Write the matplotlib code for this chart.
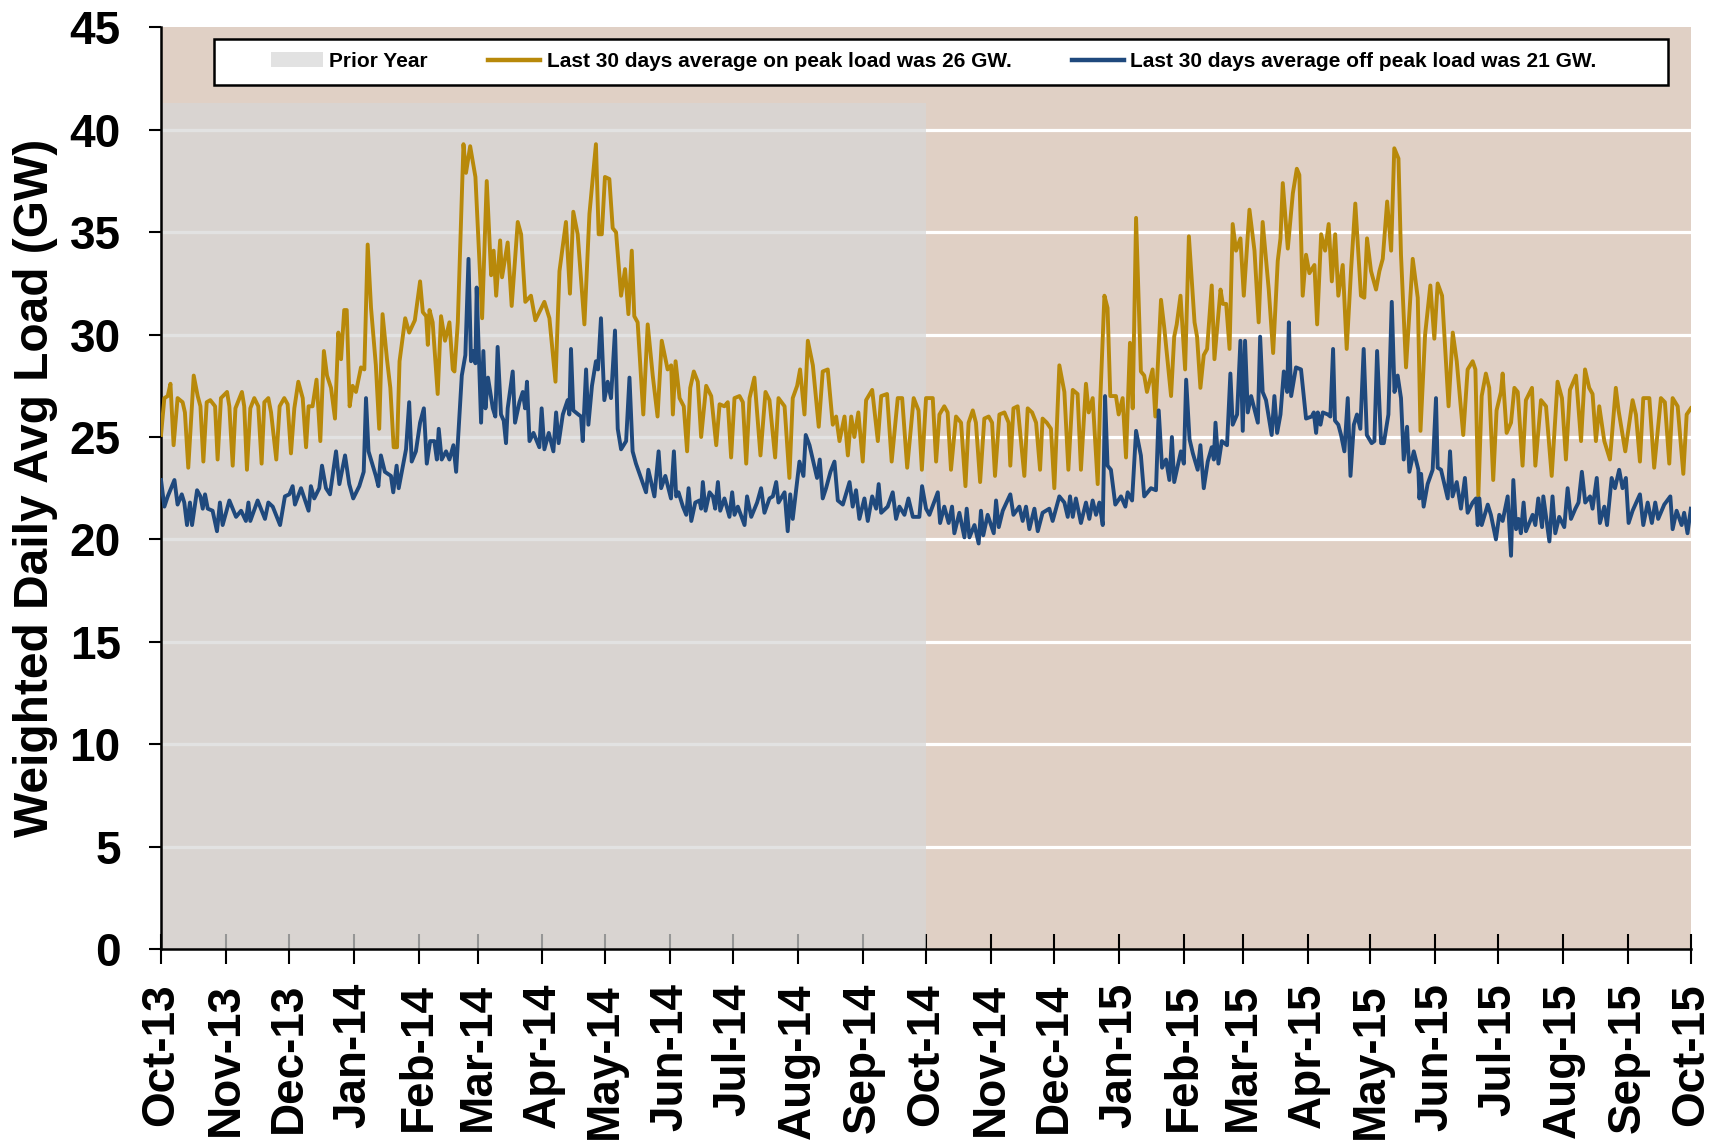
import matplotlib
matplotlib.use("Agg")
import matplotlib.pyplot as plt
import matplotlib.dates as mdates
from matplotlib.patches import Patch, Rectangle
from matplotlib.lines import Line2D
import pandas as pd

# days since 2013-10-01 and weighted daily average load (GW)
on_peak_day = [
    0, 1.6, 3.2, 4.5, 6.0, 7.9, 10.3, 11.4, 13.0, 15.6, 17.5, 18.8, 20.2, 21.8, 23.5, 25.8, 27.0, 28.6,
    31.5, 32.6, 34.2, 35.5, 38.6, 39.7, 41.0, 42.6, 44.5, 46.4, 48.0, 49.3, 51.2, 52.5, 55.0, 56.6,
    58.8, 60.4, 62.0, 63.6, 65.5, 67.6, 69.2, 70.4, 72.3, 74.2, 76.0, 77.7, 79.2, 81.1, 83.0, 84.6,
    85.9, 87.4, 88.6, 90.0, 91.4, 93.0, 95.4, 97.0, 98.6, 100.2, 102.5, 104.1, 105.7, 107.8, 109.4,
    111.0, 112.6, 113.8, 116.5, 118.4, 121.1,
    123.6, 124.9, 126.5, 127.3, 128.1, 129.6, 132.0, 133.6, 135.5, 137.6, 139.2, 140.0, 141.6, 144.3,
    145.5, 147.5, 150.0, 153.2, 155.4, 157.5, 158.7, 159.9, 161.8, 162.7, 165.4, 167.3, 170.2, 171.8,
    173.8, 176.5, 178.6, 182.9, 185.3, 188.2, 190.1, 193.2, 195.1, 196.7, 198.8, 202.0, 204.4, 207.5,
    208.8, 210.3, 211.8, 213.9, 215.5, 217.1, 219.5, 221.4, 223.0, 224.6, 225.8, 227.4, 230.1, 232.2,
    234.6, 236.9, 238.9, 241.7, 243.4,
    244.2, 245.5, 247.4, 249.4, 251.0, 252.5, 254.2, 256.1, 257.7, 260.1, 262.5, 264.9, 266.5, 268.8,
    270.4, 272.0, 273.6, 276.0, 277.6, 279.2, 280.8, 283.1, 286.0, 288.4, 290.3, 293.0, 294.6, 297.5,
    299.8, 301.4, 303.5, 304.9, 307.0, 308.6, 311.0, 313.8, 315.7, 318.1, 320.5, 322.1, 323.7, 326.1,
    327.7, 329.3, 330.8, 332.7, 334.8, 336.4, 339.3, 342.0, 343.6, 346.4, 348.6, 351.5, 353.6, 356.0,
    359.1, 361.4, 363.0, 365.0,
    368.2, 369.8, 371.4, 373.7, 375.3, 376.9, 379.3, 381.7, 383.8, 385.3, 387.3, 388.8, 390.8, 392.8,
    394.9, 396.5, 397.9, 400.0, 402.4, 404.4, 405.2, 406.7, 408.7, 411.9, 413.5, 415.6, 417.5, 419.4,
    420.6, 422.6, 424.6, 426.2, 428.6, 431.0, 432.9, 435.0, 437.3, 438.9, 441.3, 442.6, 444.5, 446.9,
    448.0, 450.1, 451.6, 452.9, 455.6, 456.9, 458.8, 460.4, 462.3, 463.6, 465.2, 467.5, 469.1, 470.4,
    473.1, 474.4, 477.1, 478.7, 481.9, 483.4, 484.6, 486.4,
    488.6, 490.4, 493.1, 494.3, 495.9, 497.5, 499.1, 501.3, 502.6, 505.5, 506.6, 508.2, 509.8, 511.3,
    512.9, 515.0, 516.6, 519.3, 521.7, 523.7, 525.6, 528.5, 530.6, 532.8, 534.1, 535.2, 537.6, 540.0,
    541.9, 543.1, 544.7, 546.3, 547.9, 550.3, 551.6, 553.5, 555.4, 557.1, 558.6, 560.2, 561.7, 563.8,
    565.7, 567.8, 569.8, 572.5, 574.1, 575.4, 577.3, 579.7, 581.3, 582.9, 585.0, 586.9, 588.4, 590.4,
    591.6, 594.0, 597.2, 599.6, 600.9, 603.1, 605.6, 607.5,
    609.1, 611.2, 614.3, 616.3, 618.2, 621.3, 623.4, 625.8, 627.1, 628.5, 630.1, 632.1, 633.7, 635.6,
    637.2, 639.3, 640.1, 642.0, 644.1, 645.7, 647.3, 649.6, 651.2, 654.1, 655.7, 658.4, 660.8, 663.5,
    666.3, 668.4, 670.3, 672.2, 675.1, 677.5, 679.4, 681.4, 683.0, 684.6, 686.2, 688.6, 691.3, 694.1,
    695.4, 698.6, 702.1, 703.7, 705.6, 707.2, 710.1, 712.4, 715.6, 717.5, 719.6, 721.2, 723.6, 726.3,
    727.9, 729.9,
]
on_peak_gw = [
    25.1, 26.9, 27.0, 27.6, 24.6, 26.9, 26.7, 26.2, 23.5, 28.0, 27.0, 26.5, 23.8, 26.7, 26.8, 26.5, 23.9, 26.9,
    27.2, 26.5, 23.6, 26.4, 27.2, 26.5, 23.4, 26.4, 26.9, 26.5, 23.7, 26.7, 26.9, 26.2, 23.9, 26.5,
    26.9, 26.6, 24.2, 26.4, 27.7, 26.9, 24.5, 26.5, 26.5, 27.8, 24.8, 29.2, 28.0, 27.4, 25.9, 30.1,
    28.8, 31.2, 31.2, 26.5, 27.5, 27.2, 28.4, 28.3, 34.4, 31.3, 28.5, 25.4, 31.0, 28.8, 27.4,
    24.5, 24.5, 28.7, 30.8, 30.1, 30.7,
    32.6, 31.1, 30.9, 29.5, 31.2, 30.6, 27.1, 30.9, 29.7, 30.6, 28.3, 28.2, 30.6, 39.3,
    37.9, 39.2, 37.7, 30.8, 37.5, 32.9, 34.1, 31.9, 34.6, 32.8, 34.5, 31.4, 35.5, 34.9,
    31.6, 31.9, 30.7, 31.6, 30.8, 27.7, 33.1, 35.5, 32.0, 36.0, 34.9, 30.5, 35.9, 39.3,
    34.9, 34.9, 37.7, 37.6, 35.2, 35.0, 31.9, 33.2, 31.0, 34.1, 30.9, 30.6, 26.1, 30.5,
    28.0, 26.0, 29.7, 28.3, 28.5,
    26.1, 28.7, 26.9, 26.5, 24.3, 27.4, 28.2, 27.7, 25.0, 27.5, 27.0, 24.6, 26.6, 26.5,
    26.7, 24.0, 26.9, 27.0, 26.7, 23.7, 26.9, 27.9, 24.1, 27.2, 26.8, 24.0, 26.9, 26.5,
    23.0, 26.9, 27.5, 28.3, 26.1, 29.7, 28.5, 25.5, 28.2, 28.3, 25.6, 26.0, 24.8, 26.0,
    24.1, 26.0, 25.0, 26.2, 23.8, 26.8, 27.3, 24.8, 27.0, 27.1, 23.8, 26.9, 26.9, 23.5,
    26.9, 26.3, 23.4, 26.9,
    26.9, 23.8, 26.1, 26.5, 26.2, 23.4, 26.0, 25.7, 22.6, 25.7, 26.3, 25.7, 22.8, 25.9,
    26.0, 25.7, 23.1, 26.1, 26.2, 25.7, 23.6, 26.4, 26.5, 23.1, 26.4, 26.2, 25.7, 23.4,
    25.9, 25.7, 25.4, 22.5, 28.5, 27.2, 23.4, 27.3, 27.1, 23.4, 27.6, 26.2, 26.9, 22.7,
    26.5, 31.9, 31.3, 27.0, 27.0, 26.1, 26.9, 24.0, 29.6, 26.4, 35.7, 28.2, 28.0, 27.2,
    28.3, 26.0, 31.7, 30.3, 27.0, 29.9, 30.5, 31.9,
    28.3, 34.8, 30.6, 29.9, 27.4, 29.0, 29.3, 32.4, 28.8, 32.2, 31.5, 31.5, 29.3, 35.4,
    34.1, 34.7, 31.9, 36.1, 34.1, 30.6, 35.5, 32.2, 29.1, 33.6, 34.7, 37.4, 34.2, 36.9,
    38.1, 37.8, 31.9, 33.9, 33.0, 33.4, 30.5, 34.9, 34.1, 35.4, 32.6, 34.9, 31.9, 33.4,
    29.3, 33.2, 36.4, 31.9, 31.8, 34.7, 33.1, 32.2, 33.1, 33.7, 36.5, 34.1, 39.1, 38.6,
    33.9, 28.4, 33.7, 31.8, 25.3, 30.0, 32.4, 29.8,
    32.5, 31.9, 26.5, 30.1, 28.7, 25.1, 28.3, 28.7, 28.3, 22.1, 27.0, 28.1, 27.4, 22.9,
    26.3, 27.2, 28.1, 25.2, 25.7, 27.4, 27.2, 23.6, 26.8, 27.4, 23.6, 26.8, 26.5, 23.1,
    27.7, 26.9, 23.9, 27.3, 28.0, 24.8, 28.3, 27.4, 27.1, 24.8, 26.5, 24.8, 23.9, 27.4,
    26.3, 24.3, 26.8, 26.1, 23.8, 26.9, 26.9, 23.5, 26.9, 26.7, 23.7, 26.9, 26.5, 23.2,
    26.1, 26.4,
]

off_peak_day = [
    0, 1.6, 3.2, 6.4, 7.9, 9.9, 11.1, 12.4, 13.8, 14.8, 17.2, 18.8, 19.9, 21.0, 22.3, 24.6, 26.7, 28.1,
    29.4, 32.6, 35.8, 38.2, 40.5, 41.7, 42.6, 46.1, 49.6, 51.2, 53.3, 56.8, 59.1, 61.2, 62.8, 63.9,
    66.8, 70.4, 71.5, 73.1, 75.5, 76.8, 78.7, 80.6, 83.5, 85.1, 87.8, 89.8, 91.7, 94.6, 96.7, 97.8,
    99.0, 102.5, 103.7, 104.9, 106.8, 109.7, 110.8, 112.4, 113.4, 116.9, 118.4, 119.6, 121.6,
    123.6, 125.4, 126.8, 128.4, 130.4, 131.6, 132.5, 133.9, 136.0, 137.6, 139.5, 140.8, 143.5, 145.2,
    146.7, 147.9, 149.0, 150.0, 150.6, 152.7, 153.8, 154.8, 156.0, 158.3, 159.5, 160.6, 162.2, 163.5,
    164.6, 165.4, 167.8, 168.9, 171.0, 172.6, 173.7, 174.6, 175.8, 177.7, 180.5, 181.6, 182.9, 185.0,
    187.2, 188.5, 189.7, 191.7, 194.0, 194.8, 195.6, 196.7, 199.1, 200.4, 201.2, 202.8, 203.9, 205.6,
    207.5, 208.5, 209.9, 211.5, 213.1, 214.7, 216.6, 217.9, 219.5, 221.9, 223.5, 225.0, 226.6, 229.0,
    231.4, 232.5, 235.4, 237.4, 238.6, 240.6, 243.3,
    244.7, 245.8, 246.9, 249.0, 250.6, 251.7, 253.0, 254.9, 256.9, 257.7, 258.5, 259.8, 261.7, 263.3,
    264.4, 265.7, 266.8, 268.8, 271.2, 272.5, 273.6, 275.2, 278.4, 279.6, 281.6, 284.4, 286.3, 287.9,
    290.3, 291.9, 293.5, 294.6, 297.5, 299.0, 300.2, 301.4, 304.6, 306.5, 307.6, 309.4, 313.0, 314.3,
    315.7, 317.3, 319.4, 321.3, 322.9, 325.3, 328.5, 330.0, 331.6, 333.2, 335.6, 337.2, 339.3, 341.2,
    342.4, 343.6, 346.7, 349.1, 350.7, 352.3, 354.7, 356.6, 358.7, 361.8, 363.1, 365.0,
    366.6, 370.6, 371.7, 373.7, 375.8, 377.4, 378.5, 380.9, 383.3, 384.4, 385.7, 388.1, 390.1, 391.2,
    392.3, 394.4, 397.3, 398.4, 399.7, 401.6, 405.2, 406.7, 409.5, 411.1, 412.7, 414.3, 416.7, 418.3,
    420.6, 423.8, 425.4, 428.6, 431.0, 432.6, 433.7, 435.0, 436.5, 438.9, 441.3, 442.9, 444.5, 446.1,
    447.7, 449.3, 450.4, 451.6, 453.2, 455.3, 458.0, 460.1, 461.2, 463.3, 465.2, 467.5, 469.1, 472.3,
    474.7, 476.0, 477.6, 479.5, 481.1, 482.3, 483.4, 486.6,
    488.0, 489.1, 490.7, 492.3, 494.6, 495.9, 497.5, 499.4, 501.3, 502.3, 503.1, 504.5, 506.1, 508.6,
    510.2, 511.3, 513.4, 515.0, 516.1, 517.2, 518.5, 520.1, 523.3, 524.4, 525.6, 527.2, 529.9, 531.2,
    532.5, 534.1, 535.7, 537.3, 538.1, 539.2, 541.5, 543.9, 545.2, 546.3, 549.0, 550.0, 551.1, 551.9,
    553.2, 554.3, 556.7, 557.9, 559.2, 560.1, 561.7, 563.0, 564.6, 566.2, 567.5, 569.1, 570.6, 572.2,
    573.8, 575.3, 577.6, 578.9, 580.2, 582.1, 583.4, 585.6, 587.2, 588.5, 590.0, 591.6, 592.9, 594.5,
    595.6, 597.7, 599.9, 600.4, 601.2, 602.4, 604.3, 606.7, 608.3,
    609.1, 610.7, 613.9, 615.0, 616.2, 618.2, 620.2, 622.1, 623.4, 625.8, 627.4, 628.2, 629.0, 630.1,
    633.0, 634.5, 636.9, 638.5, 640.1, 642.5, 644.1, 645.2, 646.5, 647.7, 648.8, 650.1, 651.2, 654.4,
    655.7, 657.1, 658.9, 659.5, 662.4, 663.9, 665.2, 667.1, 669.5, 671.1, 672.7, 674.8, 676.3, 677.9,
    679.5, 681.8, 683.0, 685.0, 686.5, 688.6, 689.9, 692.1, 693.7, 695.7, 697.3, 698.9, 700.2, 702.1,
    705.6, 707.2, 709.3, 711.3, 712.9, 714.3, 717.2, 720.1, 721.2, 723.1, 725.5, 726.7, 728.3, 729.9,
]
off_peak_gw = [
    22.9, 21.6, 22.1, 22.9, 21.7, 22.2, 21.8, 20.7, 21.8, 20.7, 22.4, 22.1, 21.5, 22.2, 21.5, 21.4, 20.4, 21.8,
    20.7, 21.9, 21.1, 21.4, 20.9, 21.8, 20.9, 21.9, 21.0, 21.8, 21.6, 20.7, 22.1, 22.2, 22.6, 21.7,
    22.5, 21.4, 22.6, 22.0, 22.5, 23.6, 22.5, 22.2, 24.3, 22.7, 24.1, 22.7, 22.0, 22.6, 23.3, 26.9,
    24.3, 23.1, 22.6, 24.1, 23.3, 23.1, 22.3, 23.6, 22.5, 24.4, 26.7, 23.8, 24.3,
    25.7, 26.4, 23.7, 24.8, 24.8, 23.9, 25.4, 23.9, 24.3, 23.9, 24.6, 23.3, 28.0, 29.0,
    33.7, 28.7, 29.2, 28.6, 32.3, 25.7, 29.2, 26.4, 27.9, 26.4, 26.0, 29.4, 26.1, 25.8,
    24.7, 26.4, 28.2, 25.7, 26.7, 27.2, 26.4, 27.7, 24.8, 25.2, 24.5, 26.4, 24.4, 25.2,
    24.3, 26.2, 24.7, 26.1, 26.8, 26.1, 29.3, 26.3, 26.1, 26.0, 24.8, 28.3, 25.6, 27.5,
    28.7, 28.3, 30.8, 26.8, 27.7, 26.9, 30.2, 25.4, 24.4, 24.8, 27.9, 24.3, 23.7, 23.0,
    22.3, 23.4, 22.1, 24.3, 22.5, 23.1, 22.0,
    24.3, 22.1, 22.3, 21.6, 21.2, 22.5, 20.9, 21.8, 21.9, 21.5, 22.8, 21.4, 22.3, 22.1,
    21.5, 22.8, 21.4, 22.0, 21.1, 22.3, 21.2, 21.6, 20.7, 22.1, 21.1, 21.8, 22.5, 21.3,
    22.0, 22.1, 22.8, 21.8, 22.3, 20.4, 22.2, 21.0, 23.8, 23.1, 25.1, 24.6, 23.0, 23.9,
    22.0, 22.5, 23.3, 23.8, 21.9, 21.7, 22.8, 21.6, 22.4, 21.0, 22.0, 20.9, 22.1, 21.5,
    22.7, 21.3, 21.6, 22.3, 21.0, 21.6, 21.2, 22.0, 21.1, 21.1, 22.6, 21.5,
    21.2, 22.3, 20.8, 21.6, 20.8, 21.6, 20.3, 21.3, 20.1, 21.5, 20.1, 20.7, 19.8, 21.4,
    20.2, 21.2, 20.3, 21.9, 20.6, 21.4, 22.2, 21.2, 21.6, 20.9, 21.6, 20.5, 21.5, 20.4,
    21.3, 21.5, 20.9, 22.1, 21.8, 21.1, 22.1, 21.1, 22.0, 20.8, 21.8, 21.0, 21.9, 21.2,
    21.8, 20.7, 27.0, 23.6, 23.4, 21.7, 22.1, 21.6, 22.3, 21.9, 25.3, 24.1, 22.1, 22.5,
    22.4, 26.3, 23.5, 23.9, 22.9, 25.0, 22.8, 24.3,
    23.7, 27.8, 24.9, 24.2, 23.4, 24.6, 22.5, 23.8, 24.5, 23.9, 25.7, 23.7, 24.8, 24.6,
    28.1, 25.6, 26.1, 29.7, 25.3, 29.7, 26.2, 27.0, 25.7, 29.9, 27.2, 26.8, 25.1, 27.0,
    25.2, 26.1, 28.2, 27.2, 30.6, 27.0, 28.4, 28.3, 27.0, 25.9, 26.0, 26.2, 25.2, 26.2,
    25.6, 26.2, 26.1, 26.0, 29.3, 25.8, 25.6, 25.1, 24.3, 26.9, 23.1, 25.6, 26.1, 25.4,
    29.3, 25.1, 24.7, 24.8, 29.2, 24.7, 24.7, 26.1, 31.6, 27.2, 28.0, 26.9, 23.9, 25.5,
    23.3, 24.3, 23.4, 22.0, 23.2, 21.6, 22.7, 23.4, 26.9,
    23.5, 23.4, 22.0, 24.3, 22.1, 22.8, 21.5, 23.0, 21.3, 21.8, 22.0, 20.7, 22.0, 20.7,
    21.7, 21.2, 20.0, 21.2, 20.9, 22.1, 19.2, 22.9, 20.5, 21.0, 20.3, 21.8, 20.4, 21.2,
    20.7, 22.0, 20.6, 22.1, 19.9, 22.1, 20.3, 21.1, 20.6, 22.5, 21.0, 21.5, 21.8, 23.3,
    21.8, 22.1, 21.5, 23.0, 20.8, 21.6, 20.7, 23.0, 22.5, 23.4, 22.5, 23.0, 20.8, 21.4,
    22.2, 20.7, 21.8, 20.8, 21.8, 21.0, 21.7, 22.1, 20.5, 21.4, 20.7, 21.3, 20.3, 21.5,
]

start_date = "2013-10-01"
end_date = "2015-10-01"
prior_year_end = "2014-10-01"
prior_year_height = 41.3

yticks = list(range(0, 46, 5))
legend_labels = ["Prior Year",
                 "Last 30 days average on peak load was 26 GW.",
                 "Last 30 days average off peak load was 21 GW."]

gold = "#B8890A"
navy = "#1F497D"
tan = "#E0D0C5"
font = ["Liberation Sans", "DejaVu Sans"]

t0 = pd.Timestamp(start_date)
on_x = t0 + pd.to_timedelta(on_peak_day, unit="D")
off_x = t0 + pd.to_timedelta(off_peak_day, unit="D")

fig = plt.figure(figsize=(17.24, 11.44), dpi=100)
ax = fig.add_axes([0.0934, 0.1705, 0.8875, 0.8055])
ax.set_facecolor(tan)

ax.set_xlim(pd.Timestamp(start_date), pd.Timestamp(end_date))
ax.set_ylim(0, 45)

for y in yticks[1:-1]:
    ax.axhline(y, color="white", lw=2.3, zorder=1)

ax.fill_between([pd.Timestamp(start_date), pd.Timestamp(prior_year_end)], 0, prior_year_height,
                color="#D7D7D7", alpha=0.7, lw=0, zorder=2)

ax.plot(on_x, on_peak_gw, color=gold, lw=2.8, zorder=3)
ax.plot(off_x, off_peak_gw, color=navy, lw=2.8, zorder=4)

ax.spines["top"].set_visible(False)
ax.spines["right"].set_visible(False)
ax.spines["left"].set_linewidth(1.8)
ax.spines["bottom"].set_linewidth(1.8)

ax.xaxis.set_major_locator(mdates.MonthLocator())
ax.xaxis.set_major_formatter(mdates.DateFormatter("%b-%y"))
ax.set_yticks(yticks)

ax.tick_params(axis="x", direction="inout", length=21, width=1.5, pad=14, rotation=90)
ax.tick_params(axis="y", direction="out", length=9, width=1.5, pad=20)
for lab in ax.get_xticklabels() + ax.get_yticklabels():
    lab.set_fontfamily(font)
    lab.set_fontweight("bold")
    lab.set_fontsize(33)

ax.set_ylabel("Weighted Daily Avg Load (GW)", fontsize=34.5, fontweight="bold",
              family=font, labelpad=8)

# legend frame drawn separately so it can be wider than its entries
ax.add_patch(Rectangle((0.0346, 0.938), 0.9504, 0.050, transform=ax.transAxes,
                       facecolor="white", edgecolor="black", lw=1.8, zorder=9))

handles = [Patch(facecolor="#D7D7D7", alpha=0.7, edgecolor="none"),
           Line2D([], [], color=gold, lw=3.2),
           Line2D([], [], color=navy, lw=3.2)]
leg = ax.legend(handles, legend_labels, ncol=3, loc="center", bbox_to_anchor=(0.505, 0.963),
                frameon=False, handlelength=2.5, handletextpad=0.3, columnspacing=2.9,
                prop={"family": font, "weight": "bold", "size": 15})
leg.set_zorder(10)

fig.savefig("out.png", dpi=100)
